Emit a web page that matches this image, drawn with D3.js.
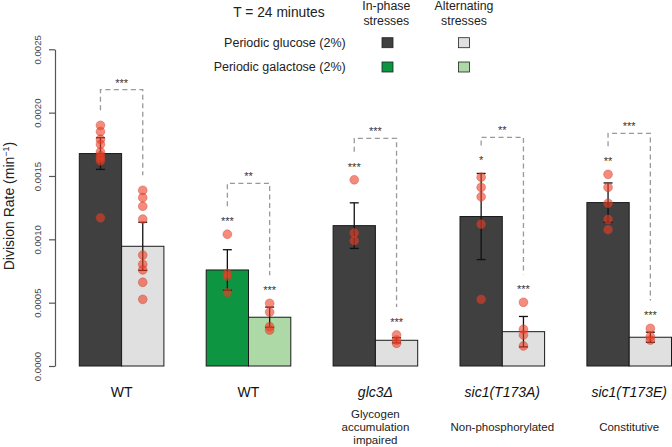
<!DOCTYPE html>
<html>
<head>
<meta charset="utf-8">
<script src="https://cdn.jsdelivr.net/npm/d3@7"></script>
<style>
  body { margin: 0; background: #fff; }
  svg { font-family: "Liberation Sans", Arial, sans-serif; }
</style>
</head>
<body>
<svg id="chart"></svg>
<script>
// strains on the x axis
const strains = ["WT", "WT", "glc3Δ", "sic1(T173A)", "sic1(T173E)"];
const strainItalic = [false, false, true, true, true];
const strainNotes = [[], [], ["Glycogen", "accumulation", "impaired"], ["Non-phosphorylated"], ["Constitutive"]];
const medium = ["glucose", "galactose", "glucose", "glucose", "glucose"];

// mean division rate (min^-1) and error
const inPhaseMean = [0.001677, 0.000758, 0.001108, 0.00118, 0.00129];
const inPhaseErr = [0.000125, 0.00016, 0.00018, 0.00034, 0.000155];
const altMean = [0.000945, 0.000385, 0.000203, 0.000271, 0.000227];
const altErr = [0.00019, 0.00008, 0.00002, 0.00012, 0.00004];

// individual replicates
const inPhasePoints = [
  [0.0019, 0.00185, 0.00179, 0.00175, 0.00169, 0.00166, 0.00164, 0.00162, 0.00117],
  [0.00104, 0.00073, 0.00071, 0.00058],
  [0.00147, 0.00105, 0.00099],
  [0.00149, 0.00141, 0.001336, 0.00112, 0.000526],
  [0.001513, 0.00141, 0.001284, 0.001158, 0.001076]
];
const altPoints = [
  [0.001387, 0.001329, 0.001261, 0.00116, 0.000876, 0.000803, 0.000758, 0.000661, 0.000526],
  [0.000495, 0.000426, 0.00031, 0.000284],
  [0.000245, 0.000205, 0.000179],
  [0.000503, 0.00029, 0.000245, 0.000158],
  [0.000297, 0.000232, 0.000205]
];

// significance marks
const inPhaseStars = ["", "***", "***", "*", "**"];
const altStars = ["", "***", "***", "***", "***"];
const pairStars = ["***", "**", "***", "**", "***"];
const bracketTop = [0.002181, 0.001442, 0.001797, 0.001805, 0.001837];

const yTicks = [0, 0.0005, 0.001, 0.0015, 0.002, 0.0025];

const colors = {
  glucose: { in: "#404040", alt: "#e0e0e0" },
  galactose: { in: "#0e9541", alt: "#acd9a5" }
};

const W = 672, H = 447;
const svg = d3.select("#chart").attr("width", W).attr("height", H);

const y = d3.scaleLinear().domain([0, 0.0025]).range([366, 49.3]);
const x = d3.scaleBand().domain(d3.range(strains.length)).range([79.3, 671.5]).paddingInner(1 / 3).paddingOuter(0);
const xs = d3.scaleBand().domain(["in", "alt"]).range([0, x.bandwidth()]);

// y axis
const yAxis = svg.append("g")
  .attr("transform", "translate(55,0)")
  .call(d3.axisLeft(y).tickValues(yTicks).tickFormat(d3.format(".4f")).tickSize(6).tickSizeOuter(0));
yAxis.select(".domain").attr("stroke", "#555").attr("stroke-width", 1.2);
yAxis.selectAll(".tick line").attr("stroke", "#555").attr("stroke-width", 1.2);
yAxis.selectAll(".tick text")
  .attr("transform", "rotate(-90)")
  .attr("x", 0).attr("y", -14)
  .attr("dy", 0)
  .attr("text-anchor", "middle")
  .attr("font-size", 9.6)
  .attr("font-family", "Liberation Sans, Arial, sans-serif")
  .attr("fill", "#444");

const ytitle = svg.append("text")
  .attr("transform", "translate(13.5,206) rotate(-90)")
  .attr("text-anchor", "middle")
  .attr("font-size", 14)
  .attr("fill", "#222");
ytitle.append("tspan").text("Division Rate (min");
ytitle.append("tspan").attr("font-size", 9).attr("dy", -5).text("−1");
ytitle.append("tspan").attr("dy", 5).text(")");

// bars
const rows = strains.map((s, i) => ({
  i,
  bars: [
    { key: "in", mean: inPhaseMean[i], err: inPhaseErr[i], pts: inPhasePoints[i], star: inPhaseStars[i], fill: colors[medium[i]].in },
    { key: "alt", mean: altMean[i], err: altErr[i], pts: altPoints[i], star: altStars[i], fill: colors[medium[i]].alt }
  ]
}));

const g = svg.selectAll(".grp").data(rows).join("g")
  .attr("class", "grp")
  .attr("transform", d => `translate(${x(d.i)},0)`);

g.selectAll("rect").data(d => d.bars).join("rect")
  .attr("x", d => xs(d.key))
  .attr("y", d => y(d.mean))
  .attr("width", xs.bandwidth())
  .attr("height", d => y(0) - y(d.mean))
  .attr("fill", d => d.fill)
  .attr("stroke", "#1a1a1a")
  .attr("stroke-width", 1);

// error bars
const eb = g.selectAll(".eb").data(d => d.bars).join("g").attr("class", "eb")
  .attr("transform", d => `translate(${xs(d.key) + xs.bandwidth() / 2},0)`);
eb.append("line").attr("y1", d => y(d.mean - d.err)).attr("y2", d => y(d.mean + d.err));
eb.append("line").attr("x1", -4.5).attr("x2", 4.5).attr("y1", d => y(d.mean + d.err)).attr("y2", d => y(d.mean + d.err));
eb.append("line").attr("x1", -4.5).attr("x2", 4.5).attr("y1", d => y(d.mean - d.err)).attr("y2", d => y(d.mean - d.err));
eb.selectAll("line").attr("stroke", "#111").attr("stroke-width", 1.3);

// replicate points
eb.selectAll("circle").data(d => d.pts).join("circle")
  .attr("cx", 0)
  .attr("cy", d => y(d))
  .attr("r", 4.4)
  .attr("fill", "rgba(236,62,36,0.6)")
  .attr("stroke", "rgba(200,60,40,0.55)")
  .attr("stroke-width", 0.7);

// significance stars and brackets
rows.forEach(r => {
  const gx = x(r.i);
  const ends = r.bars.map(b => {
    const top = d3.min([y(d3.max(b.pts)), y(b.mean + b.err)]);
    const cx = gx + xs(b.key) + xs.bandwidth() / 2;
    let leg = top - 15;
    if (b.star) {
      svg.append("text").attr("x", cx).attr("y", top - 15 + 6)
        .attr("text-anchor", "middle").attr("font-size", 11).attr("fill", "#333").text(b.star);
      leg = top - 28;
    }
    return { cx, leg };
  });
  const ty = y(bracketTop[r.i]);
  svg.append("path")
    .attr("d", `M${ends[0].cx},${ends[0].leg}V${ty}H${ends[1].cx}V${ends[1].leg}`)
    .attr("fill", "none")
    .attr("stroke", "#999")
    .attr("stroke-width", 1.3)
    .attr("stroke-dasharray", "5,3.5");
  svg.append("text").attr("x", (ends[0].cx + ends[1].cx) / 2).attr("y", ty - 9 + 6)
    .attr("text-anchor", "middle").attr("font-size", 11).attr("fill", "#333").text(pairStars[r.i]);
});

// strain labels
rows.forEach(r => {
  const cx = x(r.i) + x.bandwidth() / 2;
  svg.append("text").attr("x", cx).attr("y", 397)
    .attr("text-anchor", "middle").attr("font-size", 14).attr("fill", "#111")
    .attr("font-style", strainItalic[r.i] ? "italic" : "normal")
    .text(strains[r.i]);
  const notes = strainNotes[r.i];
  notes.forEach((t, k) => {
    svg.append("text").attr("x", cx).attr("y", 431 + (k - (notes.length - 1) / 2) * 13.3)
      .attr("text-anchor", "middle").attr("font-size", 11.5).attr("fill", "#222").text(t);
  });
});

// legend
const lg = svg.append("g").attr("fill", "#222");
lg.append("text").attr("x", 279).attr("y", 16.5).attr("text-anchor", "middle").attr("font-size", 13.8).text("T = 24 minutes");
[["In-phase", "stresses", 386.3], ["Alternating", "stresses", 464]].forEach(h => {
  lg.append("text").attr("x", h[2]).attr("y", 9.5).attr("text-anchor", "middle").attr("font-size", 12.3).text(h[0]);
  lg.append("text").attr("x", h[2]).attr("y", 24.5).attr("text-anchor", "middle").attr("font-size", 12.3).text(h[1]);
});
[["Periodic glucose (2%)", "glucose", 42.7], ["Periodic galactose (2%)", "galactose", 67]].forEach(l => {
  lg.append("text").attr("x", 345.7).attr("y", l[2] + 4.3).attr("text-anchor", "end").attr("font-size", 12.5).text(l[0]);
  [["in", 387.5], ["alt", 464]].forEach(k => {
    lg.append("rect").attr("x", k[1] - 5.5).attr("y", l[2] - 5).attr("width", 11).attr("height", 10)
      .attr("fill", colors[l[1]][k[0]]).attr("stroke", "#222").attr("stroke-width", 0.8);
  });
});
</script>
</body>
</html>
